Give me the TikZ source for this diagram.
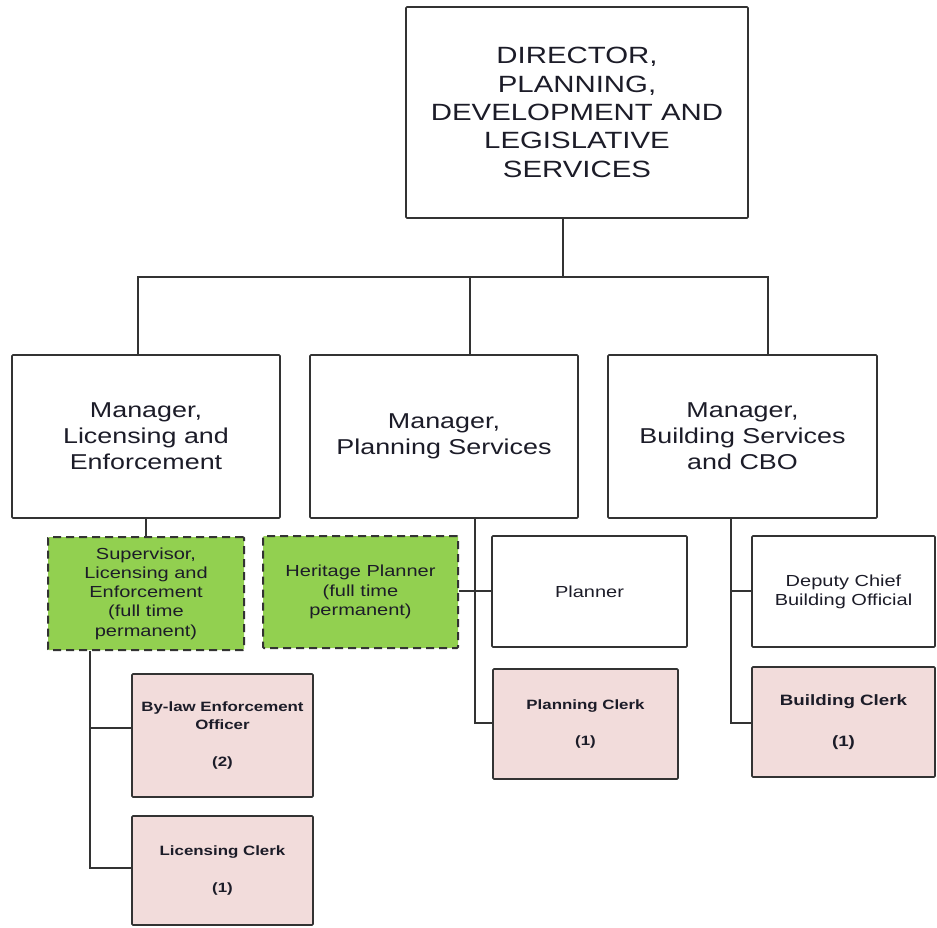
\documentclass[tikz,border=0pt]{standalone}
\usepackage{fontspec}
\newfontfamily\chartfont[FakeStretch=1.25]{Liberation Sans}
\definecolor{textc}{HTML}{1C1C28}
\definecolor{greenc}{HTML}{92D050}
\definecolor{pinkc}{HTML}{F2DCDB}
\definecolor{linec}{HTML}{333333}
\begin{document}
\begin{tikzpicture}[x=1pt,y=-1pt,
  box/.style={draw=linec, line width=1.6pt, rounded corners=1pt, fill=white, inner sep=0pt, align=center, text=textc},
  greenbox/.style={box, fill=greenc, dash pattern=on 8pt off 5pt, line width=2pt},
  pinkbox/.style={box, fill=pinkc},
  conn/.style={draw=linec, line width=1.6pt},
  fdir/.style={font=\chartfont\fontsize{23.5}{28.3}\selectfont},
  fman/.style={font=\chartfont\fontsize{21.5}{26}\selectfont},
  fsmall/.style={font=\chartfont\fontsize{16}{19.2}\selectfont},
  fpink/.style={font=\chartfont\bfseries\fontsize{13.5}{18.3}\selectfont},
]
\useasboundingbox[fill=white] (0,0) rectangle (937,928);

% top
\node[box, fdir, minimum width=342pt, minimum height=211pt] (dir) at (577,112.5)
  {DIRECTOR,\\PLANNING,\\DEVELOPMENT AND\\LEGISLATIVE\\SERVICES};

% managers
\node[box, fman, minimum width=268pt, minimum height=163pt] (mle) at (146,436.5)
  {Manager,\\Licensing and\\Enforcement};
\node[box, fman, minimum width=268pt, minimum height=163pt] (mps) at (444,436.5)
  {Manager,\\Planning Services};
\node[box, fman, minimum width=269pt, minimum height=163pt] (mbs) at (742.5,436.5)
  {Manager,\\Building Services\\and CBO};

% bus coordinates
\coordinate (j0) at (563,277);
\coordinate (j1) at (138,277);
\coordinate (j2) at (470,277);
\coordinate (j3) at (768,277);

\draw[conn] (j0 |- dir.south) -- (j0);
\draw[conn] (j1 |- mle.north) -- (j1) -- (j3) -- (j3 |- mbs.north);
\draw[conn] (j2) -- (j2 |- mps.north);

% licensing branch
\node[greenbox, fsmall, minimum width=196pt, minimum height=113pt] (sup) at (146,593.5)
  {Supervisor,\\Licensing and\\Enforcement\\(full time\\permanent)};
\node[pinkbox, fpink, minimum width=181pt, minimum height=123pt] (byl) at (222.5,735.5)
  {By-law Enforcement\\Officer\\[18.3pt](2)};
\node[pinkbox, fpink, minimum width=181pt, minimum height=109pt] (lic) at (222.5,870.5)
  {Licensing Clerk\\[18.3pt](1)};

\draw[conn] (mle.south) -- (sup.north);
\coordinate (s1) at (90,728);
\coordinate (s2) at (90,868);
\draw[conn] (s1 |- sup.south) -- (s2) -- (s2 -| lic.west);
\draw[conn] (s1) -- (s1 -| byl.west);

% planning branch
\node[greenbox, fsmall, minimum width=195pt, minimum height=112pt] (her) at (360.5,592)
  {Heritage Planner\\(full time\\permanent)};
\node[box, fsmall, minimum width=195pt, minimum height=111pt] (pln) at (589.5,591.5)
  {Planner};
\node[pinkbox, fpink, minimum width=185pt, minimum height=110pt] (pcl) at (585.5,724)
  {Planning Clerk\\[18.3pt](1)};

\coordinate (p1) at (475,591);
\coordinate (p2) at (475,723);
\draw[conn] (p1 |- mps.south) -- (p2) -- (p2 -| pcl.west);
\draw[conn] (her.east |- p1) -- (p1) -- (p1 -| pln.west);

% building branch
\node[box, fsmall, minimum width=183pt, minimum height=111pt] (dcb) at (843.5,591.5)
  {Deputy Chief\\Building Official};
\node[pinkbox, font=\chartfont\bfseries\fontsize{15}{20.5}\selectfont, minimum width=183pt, minimum height=110pt] (bcl) at (843.5,722)
  {Building Clerk\\[20.5pt](1)};

\coordinate (b1) at (731,591);
\coordinate (b2) at (731,723);
\draw[conn] (b1 |- mbs.south) -- (b2) -- (b2 -| bcl.west);
\draw[conn] (b1) -- (b1 -| dcb.west);
\end{tikzpicture}
\end{document}
